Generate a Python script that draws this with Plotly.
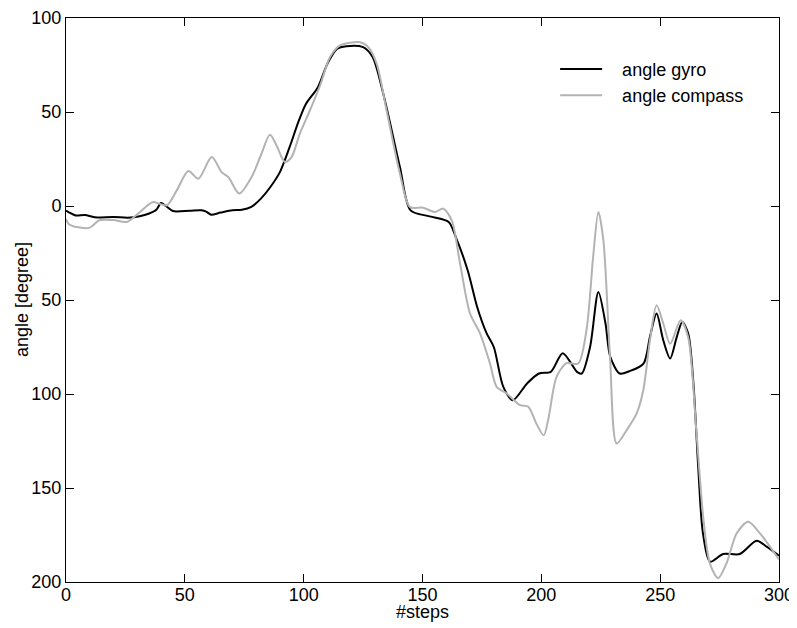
"""
Gyro vs compass heading angle over steps
"""
import plotly.graph_objects as go

# angle gyro (black)
gyro_steps = [0, 1, 4, 8, 12, 20, 26, 31, 35, 38, 40, 42, 45, 52, 57, 59, 61, 65, 70, 74,
              78, 82, 86, 90, 94, 98, 101, 106, 110, 114, 118, 125, 129, 133.5, 140.5, 145,
              153, 161, 164, 169, 173, 177, 180, 184, 188, 194, 199, 204, 209, 215, 217,
              220.5, 224, 227, 229, 233, 237, 243, 245.7, 248.5, 251.3, 254.2, 257, 259.3,
              261.8, 264, 266, 268, 271, 276.5, 283.5, 290.6, 294.8, 300]
gyro_angle = [-2.5, -3.2, -5, -4.8, -6, -5.8, -6.2, -5.5, -4, -2, 1.6, 0, -2.7, -2.5, -2.3, -3,
              -4.6, -3.5, -2.2, -2, -0.5, 3.9, 10.1, 18, 31, 45.5, 54.4, 63.2, 75.7, 83.6, 85,
              84.5, 79.2, 59.7, 20.7, -2.3, -5.5, -8.5, -16.5, -34.2, -53.7, -67.8, -75, -96.2,
              -103.3, -94.4, -89.1, -88.2, -78.3, -88.2, -89.1, -75, -45.7, -62.5, -80.2, -89.1,
              -87.9, -83.8, -69.6, -57.2, -71.4, -81.1, -69.6, -61.7, -67.8, -94.4, -138.7,
              -174.1, -189.2, -185.1, -185.1, -178, -181.2, -186]

# angle compass (grey)
compass_steps = [0, 1, 4.5, 10, 14, 20, 25.5, 30.4, 34, 36.7, 42.4, 46.6, 51.5, 55.7, 61.3,
                 65.5, 68.3, 72.9, 78.1, 82, 85.8, 88.6, 92.1, 94.9, 98.4, 102.6, 106.9,
                 111.1, 115.3, 123.7, 127.2, 130.7, 134.9, 140.5, 144.7, 150.3, 155.2, 158.7,
                 162.3, 165.8, 170, 174.2, 178.4, 181.2, 185.4, 191, 194.5, 198, 201, 203,
                 206.4, 210.6, 215.5, 219, 221.8, 224, 226.1, 228.9, 231.7, 235.9, 240.1,
                 242.9, 245.7, 248.5, 251.3, 254.2, 258.6, 261.8, 265.3, 268.1, 270.9, 274.4,
                 277.9, 282.2, 287, 292, 300]
compass_angle = [-7, -9.4, -11.2, -11.5, -7.6, -7.5, -8.5, -4, 0, 2.1, 0.4, 8.3, 18.6, 14.5, 26,
                 18, 15.4, 6.6, 15.4, 27, 37.9, 32.2, 23.4, 26, 38.5, 50.8, 64.1, 79.2, 85.4,
                 87.1, 84.5, 75.7, 50.8, 17.2, -0.5, -0.9, -3.2, -1.4, -7.6, -30.6, -57.2,
                 -67.8, -83.8, -96.2, -99.7, -105.9, -106.8, -116, -122, -113, -90.9, -83.6,
                 -83.8, -66.1, -27.1, -3.2, -18.2, -80.3, -126.3, -119.2, -110.3, -98, -71.4,
                 -52.8, -62.5, -73.3, -60.8, -70, -121, -165.3, -190.1, -198, -190.1, -174.1,
                 -168, -174.1, -188]

x_ticks = [0, 50, 100, 150, 200, 250, 300]
y_ticks = [100, 50, 0, -50, -100, -150, -200]
y_tick_text = ['100', '50', '0', '50', '100', '150', '200']

FONT = 'Liberation Sans, Arial, sans-serif'
SP = '\u00a0\u00a0\u00a0'  # gap between legend line and label

fig = go.Figure()

fig.add_trace(go.Scatter(
    x=gyro_steps, y=gyro_angle, name=SP + 'angle gyro', mode='lines',
    line=dict(color='black', width=2, shape='spline', smoothing=0.8)
))
fig.add_trace(go.Scatter(
    x=compass_steps, y=compass_angle, name=SP + 'angle compass', mode='lines',
    line=dict(color='#b3b3b3', width=2, shape='spline', smoothing=0.8)
))

axis_style = dict(
    showline=True, linecolor='black', linewidth=1, mirror='ticks',
    ticks='inside', ticklen=8, tickcolor='black', tickwidth=1,
    showgrid=False, zeroline=False, automargin=False,
    tickfont=dict(size=18, color='black', family=FONT),
)

fig.update_xaxes(range=[0, 300], tickvals=x_ticks, ticklabelstandoff=-4, **axis_style)
fig.update_yaxes(range=[-200, 100], tickvals=y_ticks, ticktext=y_tick_text, **axis_style)

# axis titles
fig.add_annotation(text='#steps', xref='paper', yref='paper', x=0.5, y=0,
                   yanchor='middle', yshift=-30, showarrow=False,
                   font=dict(size=18, color='black', family=FONT))
fig.add_annotation(text='angle [degree]', xref='paper', yref='paper', x=0, y=0.5,
                   xanchor='center', xshift=-44, textangle=-90, showarrow=False,
                   font=dict(size=18, color='black', family=FONT))

# page body adds 8px, so the figure is a bit smaller than the window
fig.update_layout(
    width=789, height=620,
    margin=dict(l=58, r=18, t=10, b=46),
    plot_bgcolor='white', paper_bgcolor='white',
    font=dict(family=FONT, color='black'),
    legend=dict(x=0.686, y=0.942, xanchor='left', yanchor='top',
                bgcolor='rgba(0,0,0,0)', font=dict(size=18, family=FONT),
                itemwidth=42, tracegroupgap=0),
)

fig.write_html("out.html")
